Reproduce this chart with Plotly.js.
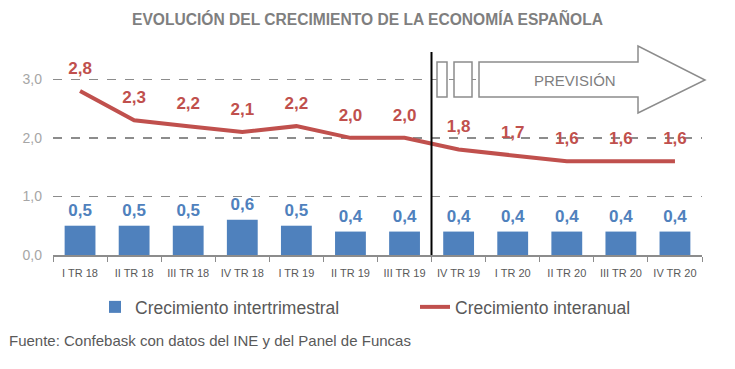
<!DOCTYPE html>
<html><head><meta charset="utf-8">
<script src="https://cdn.plot.ly/plotly-3.0.1.min.js"></script>
<style>html,body{margin:0;padding:0;background:#fff}#c{width:735px;height:369px}</style>
</head><body><div id="c"></div>
<script>
const categories = ["I TR 18","II TR 18","III TR 18","IV TR 18","I TR 19","II TR 19","III TR 19","IV TR 19","I TR 20","II TR 20","III TR 20","IV TR 20"];
const intertrimestral = [0.5,0.5,0.5,0.6,0.5,0.4,0.4,0.4,0.4,0.4,0.4,0.4];
const interanual = [2.8,2.3,2.2,2.1,2.2,2.0,2.0,1.8,1.7,1.6,1.6,1.6];
const yTicks = [0,1,2,3];

const fmt = v => v.toFixed(1).replace('.', ',');
const FONT = '"Liberation Sans", Arial, sans-serif';
const BLUE = '#4F81BD', RED = '#C0504D', GREY = '#7F7F7F';

const traces = [
  {type:'bar', x:categories, y:intertrimestral, name:'Crecimiento intertrimestral',
   marker:{color:BLUE}, width:0.57, hoverinfo:'skip'},
  {type:'scatter', mode:'markers+text', x:categories, y:intertrimestral, showlegend:false,
   text:intertrimestral.map(fmt), textposition:'top center',
   textfont:{family:FONT, size:17, color:BLUE, weight:'bold'},
   marker:{size:7, color:'rgba(0,0,0,0)'}, hoverinfo:'skip'},
  {type:'scatter', mode:'lines+markers+text', x:categories, y:interanual, name:'Crecimiento interanual',
   line:{color:RED, width:4}, marker:{size:19, color:'rgba(0,0,0,0)'},
   text:interanual.map(fmt), textposition:'top center',
   textfont:{family:FONT, size:17, color:RED, weight:'bold'}, hoverinfo:'skip'}
];

const W = 649, H = 205, L = 53, B0 = 255;
const px = x => (x - L) / W;
const py = y => (B0 - y) / H;
const lineC = '#8C8C8C';

const shapes = [
  {type:'line', xref:'paper', yref:'paper', x0:px(431.5), x1:px(431.5), y0:0, y1:py(52), line:{color:'#000', width:2}},
  {type:'rect', xref:'paper', yref:'paper', x0:px(437), x1:px(447), y0:py(97), y1:py(62), fillcolor:'#fff', line:{color:lineC, width:1.5}},
  {type:'rect', xref:'paper', yref:'paper', x0:px(454), x1:px(472), y0:py(97), y1:py(62), fillcolor:'#fff', line:{color:lineC, width:1.5}},
  {type:'path', xref:'paper', yref:'paper', fillcolor:'#fff', line:{color:lineC, width:1.5},
   path:`M ${px(479)} ${py(62)} L ${px(638)} ${py(62)} L ${px(638)} ${py(46)} L ${px(705)} ${py(80)} L ${px(638)} ${py(113)} L ${px(638)} ${py(97)} L ${px(479)} ${py(97)} Z`}
];

const layout = {
  width:735, height:369, margin:{l:L, r:735-L-W, t:B0-H, b:369-B0, autoexpand:false},
  paper_bgcolor:'#fff', plot_bgcolor:'#fff', separators:',.',
  font:{family:FONT, color:'#595959'},
  title:{text:'EVOLUCIÓN DEL CRECIMIENTO DE LA ECONOMÍA ESPAÑOLA', x:0.5, xanchor:'center', y:1-20/369, yanchor:'middle',
         font:{family:FONT, size:15.6, color:GREY, weight:'bold'}},
  xaxis:{type:'category', range:[-0.5, categories.length-0.5], autorange:false, automargin:false,
         showline:true, linecolor:lineC, linewidth:1.5, ticks:'outside', tickson:'boundaries', tickangle:0,
         ticklen:5, tickcolor:lineC, tickfont:{size:11, color:'#595959'}, ticklabelstandoff:7,
         showgrid:false, fixedrange:true},
  yaxis:{range:[0,3.5], autorange:false, automargin:false, tickvals:yTicks, ticktext:yTicks.map(fmt), showgrid:true, gridcolor:lineC, griddash:'dash',
         gridwidth:1.5, zeroline:false, showline:false, tickfont:{size:14, color:'#A6A6A6'}, ticks:'',
         ticklabelstandoff:10, fixedrange:true},
  showlegend:true,
  legend:{orientation:'h', x:px(95), xanchor:'left', y:py(307), yanchor:'middle', font:{size:17.5, color:'#595959'},
          entrywidth:275, entrywidthmode:'pixels', traceorder:'normal'},
  shapes:shapes,
  annotations:[
    {xref:'paper', yref:'paper', x:px(575), y:py(80), text:'PREVISIÓN', showarrow:false, xanchor:'center', yanchor:'middle',
     font:{family:FONT, size:15, color:GREY}},
    {xref:'paper', yref:'paper', x:px(7), y:py(340), text:'Fuente: Confebask con datos del INE y del Panel de Funcas', showarrow:false,
     xanchor:'left', yanchor:'middle', font:{family:FONT, size:15, color:'#595959'}}
  ]
};
Plotly.newPlot('c', traces, layout, {displayModeBar:false, staticPlot:true});
</script></body></html>
